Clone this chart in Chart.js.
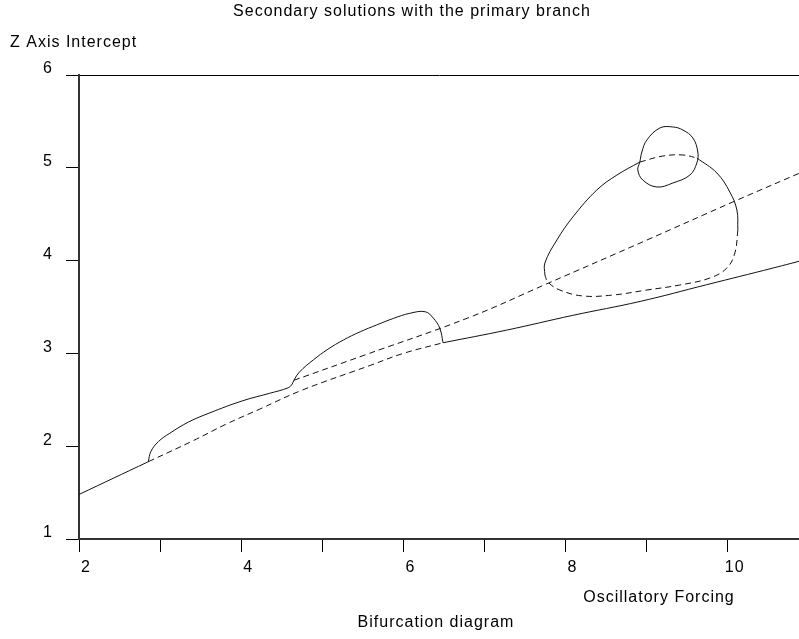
<!DOCTYPE html>
<html>
<head>
<meta charset="utf-8">
<title>Bifurcation diagram</title>
<script src="https://cdn.jsdelivr.net/npm/chart.js@4.4.1/dist/chart.umd.min.js"></script>
<style>
html, body { margin: 0; padding: 0; background: #fff; }
#wrap { width: 799px; height: 639px; position: relative; }
</style>
</head>
<body>
<div id="wrap"><canvas id="bifChart"></canvas></div>
<script>
const chartTitle = "Secondary solutions with the primary branch";
const yTitle = "Z Axis Intercept";
const xTitle = "Oscillatory Forcing";
const caption = "Bifurcation diagram";

const xTickLabels = [2, 4, 6, 8, 10];
const yTickLabels = [1, 2, 3, 4, 5, 6];

// primary branch: stable / unstable / stable
const primaryLeft = [[2, 1.48], [2.855, 1.833]];
const primaryMid = [[2.855, 1.833], [3.41, 2.06], [3.82, 2.24], [4.23, 2.4], [4.74, 2.6], [5.59, 2.87], [6.0, 3.0], [6.49, 3.115]];
const primaryRight = [[6.49, 3.115], [7.27, 3.25], [8.09, 3.41], [8.92, 3.56], [9.74, 3.74], [10.56, 3.92], [11, 4.02]];

// first secondary branch
const branchOneStable = [[2.855, 1.833], [2.885, 1.94], [2.98, 2.05], [3.12, 2.14], [3.35, 2.26], [3.615, 2.36], [4.02, 2.49], [4.35, 2.57], [4.58, 2.63], [4.63, 2.67], [4.65, 2.71], [4.72, 2.8], [4.89, 2.93], [5.07, 3.045], [5.26, 3.144], [5.47, 3.234], [5.67, 3.306], [5.88, 3.378], [6.08, 3.432], [6.27, 3.449], [6.37, 3.38], [6.45, 3.27], [6.49, 3.115]];
const branchOneUnstable = [[4.65, 2.71], [5.5, 2.975], [6.82, 3.39], [7.77, 3.75], [9.0, 4.22], [10.06, 4.63], [11, 4.985]];

// big loop on the right
const loopLeft = [[7.746, 3.845], [7.746, 3.974], [7.894, 4.222], [8.091, 4.47], [8.387, 4.761], [8.634, 4.922], [8.917, 5.062]];
const loopTop = [[8.917, 5.062], [9.201, 5.127], [9.448, 5.138], [9.62, 5.106]];
const loopRight = [[9.62, 5.106], [9.867, 4.944], [10.027, 4.739], [10.114, 4.545], [10.126, 4.33]];
const loopBottom = [[10.126, 4.33], [10.089, 4.082], [9.99, 3.92], [9.78, 3.812], [9.41, 3.737], [9.004, 3.683], [8.585, 3.629], [8.215, 3.619], [7.931, 3.683], [7.783, 3.769], [7.746, 3.845]];

// small isola
const smallLoop = [[8.917, 5.062], [8.892, 4.976], [8.954, 4.868], [9.127, 4.793], [9.324, 4.836], [9.534, 4.922], [9.62, 5.052], [9.632, 5.17], [9.571, 5.321], [9.448, 5.407], [9.324, 5.44], [9.164, 5.429], [9.004, 5.3], [8.942, 5.17], [8.917, 5.062]];

const curves = [
    { pts: primaryLeft, dashed: false },
    { pts: primaryMid, dashed: true },
    { pts: primaryRight, dashed: false },
    { pts: branchOneStable, dashed: false },
    { pts: branchOneUnstable, dashed: true },
    { pts: loopLeft, dashed: false },
    { pts: loopTop, dashed: true },
    { pts: loopRight, dashed: false },
    { pts: loopBottom, dashed: true },
    { pts: smallLoop, dashed: false }
];

const FONT = "'Liberation Sans', Arial, sans-serif";
Chart.defaults.font.family = FONT;
Chart.defaults.font.size = 16;
Chart.defaults.color = "#000";

function makeDataset(c) {
    return {
        data: c.pts.map(p => ({ x: p[0], y: p[1] })),
        showLine: true,
        borderColor: "#111",
        borderWidth: 1,
        borderDash: c.dashed ? [6, 4] : [],
        pointRadius: 0,
        tension: 0.4,
        fill: false
    };
}

const spacingPlugin = {
    id: "spacing",
    beforeDraw(chart) {
        chart.ctx.letterSpacing = "1px";
    }
};

const textPlugin = {
    id: "texts",
    afterDraw(chart) {
        const ctx = chart.ctx;
        ctx.save();
        ctx.letterSpacing = "1px";
        ctx.font = "16px " + FONT;
        ctx.fillStyle = "#000";
        ctx.textBaseline = "middle";
        ctx.textAlign = "center";
        ctx.fillText(chartTitle, 412, 12);
        ctx.fillText(xTitle, 659, 598);
        ctx.fillText(caption, 436, 623);
        ctx.textAlign = "left";
        ctx.fillText(yTitle, 10, 43);
        ctx.restore();
    }
};

new Chart(document.getElementById("bifChart"), {
    type: "scatter",
    data: { datasets: curves.map(makeDataset) },
    options: {
        responsive: true,
        maintainAspectRatio: false,
        animation: false,
        layout: { padding: { top: 75, right: 0, left: 0, bottom: 0 } },
        plugins: { legend: { display: false }, tooltip: { enabled: false } },
        scales: {
            x: {
                type: "linear",
                min: 2,
                max: 10.88,
                afterFit: s => { s.height = 100; },
                border: { display: true, color: "#333", width: 2 },
                grid: { drawOnChartArea: false, tickLength: 13, tickColor: "#000" },
                ticks: {
                    stepSize: 1,
                    includeBounds: false,
                    padding: 6,
                    labelOffset: 7,
                    maxRotation: 0,
                    autoSkip: false,
                    callback: v => xTickLabels.includes(v) ? String(v) : ""
                }
            },
            y: {
                type: "linear",
                min: 1,
                max: 6,
                afterFit: s => { s.width = 79; },
                border: { display: true, color: "#333", width: 2 },
                grid: {
                    color: c => c.tick && c.tick.value === 6 ? "#000" : "rgba(0,0,0,0)",
                    tickColor: "#000",
                    tickLength: 13
                },
                ticks: {
                    stepSize: 1,
                    padding: 13,
                    labelOffset: -6,
                    callback: v => yTickLabels.includes(v) ? String(v) : ""
                }
            }
        }
    },
    plugins: [spacingPlugin, textPlugin]
});
</script>
</body>
</html>
